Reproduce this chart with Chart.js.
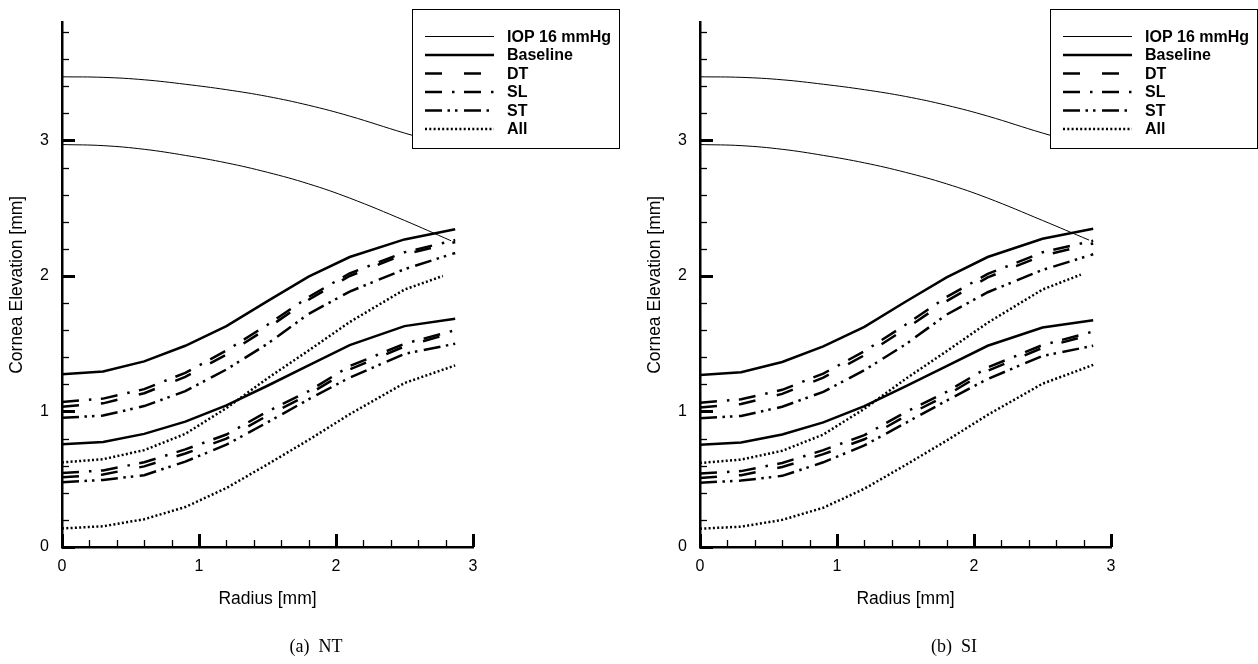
<!DOCTYPE html>
<html>
<head>
<meta charset="utf-8">
<script src="https://cdn.jsdelivr.net/npm/chart.js@4.4.1/dist/chart.umd.min.js"></script>
<style>
  body { margin: 0; background: #fff; width: 1258px; height: 664px; position: relative; overflow: hidden; }
  .panel { position: absolute; top: 0; height: 664px; }
  .caption { position: absolute; top: 636px; font-family: "Liberation Serif", "Times New Roman", serif; font-size: 18px; white-space: pre; transform: translateX(-50%); }
</style>
</head>
<body>
<div class="panel" style="left:0;width:638px"><canvas id="chartNT"></canvas></div>
<div class="panel" style="left:638px;width:620px"><canvas id="chartSI"></canvas></div>
<div class="caption" style="left:316px">(a)  NT</div>
<div class="caption" style="left:954px">(b)  SI</div>
<script>
// radius grid (mm) of the plotted nodes
const radius = [0, 0.3, 0.6, 0.9, 1.2, 1.5, 1.8, 2.1, 2.5, 2.87];
const radiusIop = [0, 0.3, 0.6, 0.9, 1.2, 1.5, 1.8, 2.1, 2.5, 2.84];
const radiusAllUpper = [0, 0.3, 0.6, 0.9, 1.2, 1.5, 1.8, 2.1, 2.5, 2.78];

const xTickLabels = [0, 1, 2, 3];
const yTickLabels = [0, 1, 2, 3];

// (a) NT
const iopUpperNT = [3.47, 3.466, 3.448, 3.415, 3.375, 3.325, 3.26, 3.18, 3.055, 2.96];
const iopLowerNT = [2.97, 2.962, 2.935, 2.89, 2.835, 2.765, 2.68, 2.575, 2.41, 2.26];
const baselineUpperNT = [1.275, 1.295, 1.37, 1.485, 1.63, 1.815, 1.995, 2.14, 2.27, 2.345];
const baselineLowerNT = [0.759, 0.775, 0.835, 0.925, 1.045, 1.19, 1.34, 1.49, 1.63, 1.685];
const dtUpperNT = [1.035, 1.06, 1.135, 1.255, 1.42, 1.615, 1.825, 2.0, 2.16, 2.25];
const slUpperNT = [1.07, 1.095, 1.165, 1.285, 1.45, 1.64, 1.845, 2.02, 2.175, 2.265];
const stUpperNT = [0.953, 0.97, 1.04, 1.15, 1.31, 1.5, 1.72, 1.885, 2.05, 2.17];
const allUpperNT = [0.624, 0.648, 0.715, 0.835, 1.025, 1.245, 1.45, 1.66, 1.9, 2.0];
const dtLowerNT = [0.514, 0.535, 0.595, 0.69, 0.8, 0.97, 1.125, 1.31, 1.48, 1.585];
const slLowerNT = [0.546, 0.565, 0.625, 0.72, 0.83, 1.0, 1.15, 1.335, 1.5, 1.6];
const stLowerNT = [0.478, 0.495, 0.53, 0.63, 0.755, 0.92, 1.09, 1.25, 1.425, 1.5];
const allLowerNT = [0.137, 0.153, 0.205, 0.295, 0.435, 0.61, 0.79, 0.98, 1.21, 1.34];

// (b) SI
const iopUpperSI = [3.47, 3.466, 3.448, 3.415, 3.375, 3.325, 3.26, 3.18, 3.055, 2.96];
const iopLowerSI = [2.97, 2.962, 2.935, 2.89, 2.835, 2.765, 2.68, 2.575, 2.41, 2.265];
const baselineUpperSI = [1.27, 1.29, 1.365, 1.48, 1.625, 1.81, 1.99, 2.14, 2.275, 2.348];
const baselineLowerSI = [0.755, 0.772, 0.83, 0.92, 1.04, 1.185, 1.335, 1.485, 1.62, 1.673];
const dtUpperSI = [1.03, 1.055, 1.13, 1.25, 1.415, 1.61, 1.815, 1.99, 2.15, 2.24];
const slUpperSI = [1.065, 1.09, 1.16, 1.28, 1.445, 1.64, 1.845, 2.015, 2.175, 2.26];
const stUpperSI = [0.95, 0.967, 1.035, 1.145, 1.305, 1.495, 1.715, 1.88, 2.045, 2.16];
const allUpperSI = [0.62, 0.645, 0.71, 0.83, 1.02, 1.24, 1.445, 1.655, 1.9, 2.01];
const dtLowerSI = [0.51, 0.53, 0.59, 0.685, 0.795, 0.965, 1.12, 1.3, 1.47, 1.572];
const slLowerSI = [0.542, 0.56, 0.62, 0.715, 0.825, 0.995, 1.145, 1.325, 1.49, 1.59];
const stLowerSI = [0.475, 0.49, 0.525, 0.625, 0.75, 0.915, 1.08, 1.24, 1.41, 1.485];
const allLowerSI = [0.135, 0.15, 0.2, 0.29, 0.43, 0.605, 0.785, 0.975, 1.205, 1.344];

const legendLabels = ['IOP 16 mmHg', 'Baseline', 'DT', 'SL', 'ST', 'All'];

const lineStyles = {
    'IOP 16 mmHg': { borderWidth: 1, borderDash: [], tension: 0.4 },
    'Baseline': { borderWidth: 2.5, borderDash: [] },
    'DT': { borderWidth: 2.5, borderDash: [17, 22] },
    'SL': { borderWidth: 2.5, borderDash: [17, 10, 2.5, 9.5] },
    'ST': { borderWidth: 2.5, borderDash: [17, 5.5, 2.5, 5, 2.5, 6.5] },
    'All': { borderWidth: 2.5, borderDash: [2, 2.3] }
};

const makeSet = (label, xs, ys) => ({
    label: label,
    data: xs.map((x, i) => ({ x: x, y: ys[i] })),
    borderColor: '#000',
    pointRadius: 0,
    tension: 0,
    fill: false,
    borderCapStyle: 'butt',
    ...lineStyles[label]
});

// tick marks drawn on the inside of both axes
const insideTicks = {
    id: 'insideTicks',
    afterDraw(chart) {
        const { ctx, chartArea, scales: { x, y } } = chart;
        ctx.save();
        ctx.strokeStyle = '#000';
        for (let i = 0; i <= 15; i++) {
            const major = i % 5 === 0;
            const px = Math.round(x.getPixelForValue(i / 5)) + 0.5;
            ctx.lineWidth = major ? 3 : 1.3;
            ctx.beginPath();
            ctx.moveTo(px, chartArea.bottom);
            ctx.lineTo(px, chartArea.bottom - (major ? 13 : 7));
            ctx.stroke();
        }
        for (let i = 0; i <= 19; i++) {
            const major = i % 5 === 0;
            const py = Math.round(y.getPixelForValue(i / 5)) + 0.5;
            ctx.lineWidth = major ? 3 : 1.3;
            ctx.beginPath();
            ctx.moveTo(chartArea.left, py);
            ctx.lineTo(chartArea.left + (major ? 13 : 7), py);
            ctx.stroke();
        }
        ctx.restore();
    }
};

// boxed legend in the top right corner, drawn over the curves
const boxLegend = {
    id: 'boxLegend',
    afterDraw(chart) {
        const ctx = chart.ctx;
        ctx.save();
        ctx.fillStyle = '#fff';
        ctx.fillRect(412, 9, 207, 139);
        ctx.strokeStyle = '#000';
        ctx.lineWidth = 1;
        ctx.setLineDash([]);
        ctx.strokeRect(412.5, 9.5, 207, 139);
        legendLabels.forEach((label, i) => {
            const st = lineStyles[label];
            const yy = 36.5 + i * 18.5;
            ctx.lineWidth = st.borderWidth;
            ctx.setLineDash(st.borderDash);
            ctx.beginPath();
            ctx.moveTo(425, yy);
            ctx.lineTo(494, yy);
            ctx.stroke();
            ctx.setLineDash([]);
            ctx.fillStyle = '#000';
            ctx.font = 'bold 16px "Liberation Sans", Arial, sans-serif';
            ctx.textBaseline = 'middle';
            ctx.fillText(label, 507, yy + 1);
        });
        ctx.restore();
    }
};

const tickFont = { family: '"Liberation Sans", Arial, sans-serif', size: 16 };
const titleFont = { family: '"Liberation Sans", Arial, sans-serif', size: 17.5 };

function buildChart(id, rightPad, series) {
    const datasets = [
        makeSet('IOP 16 mmHg', radiusIop, series.iopUpper),
        makeSet('IOP 16 mmHg', radiusIop, series.iopLower),
        makeSet('Baseline', radius, series.baselineUpper),
        makeSet('Baseline', radius, series.baselineLower),
        makeSet('DT', radius, series.dtUpper),
        makeSet('DT', radius, series.dtLower),
        makeSet('SL', radius, series.slUpper),
        makeSet('SL', radius, series.slLower),
        makeSet('ST', radius, series.stUpper),
        makeSet('ST', radius, series.stLower),
        makeSet('All', radiusAllUpper, series.allUpper),
        makeSet('All', radius, series.allLower)
    ];
    return new Chart(document.getElementById(id), {
        type: 'line',
        data: { datasets: datasets },
        options: {
            responsive: true,
            maintainAspectRatio: false,
            animation: false,
            events: [],
            layout: { padding: { left: 0, right: rightPad, top: 18, bottom: 0 } },
            scales: {
                x: {
                    type: 'linear',
                    min: 0,
                    max: 3,
                    afterBuildTicks: s => { s.ticks = xTickLabels.map(v => ({ value: v })); },
                    afterFit: s => { s.height = 117; },
                    grid: { display: false, drawTicks: false },
                    border: { display: true, color: '#000', width: 2.5 },
                    ticks: { color: '#000', font: tickFont, padding: 10, maxRotation: 0 },
                    title: { display: true, text: 'Radius [mm]', color: '#000', font: titleFont, padding: { top: 0, bottom: 54 } }
                },
                y: {
                    min: 0,
                    max: 3.87,
                    afterBuildTicks: s => { s.ticks = yTickLabels.map(v => ({ value: v })); },
                    afterFit: s => { s.width = 62; },
                    grid: { display: false, drawTicks: false },
                    border: { display: true, color: '#000', width: 2.5 },
                    ticks: { color: '#000', font: tickFont, padding: 13 },
                    title: { display: true, text: 'Cornea Elevation [mm]', color: '#000', font: titleFont, padding: { top: 7, bottom: 0 } }
                }
            },
            plugins: {
                legend: { display: false },
                tooltip: { enabled: false }
            }
        },
        plugins: [insideTicks, boxLegend]
    });
}

buildChart('chartNT', 638 - 473, {
    iopUpper: iopUpperNT, iopLower: iopLowerNT,
    baselineUpper: baselineUpperNT, baselineLower: baselineLowerNT,
    dtUpper: dtUpperNT, dtLower: dtLowerNT,
    slUpper: slUpperNT, slLower: slLowerNT,
    stUpper: stUpperNT, stLower: stLowerNT,
    allUpper: allUpperNT, allLower: allLowerNT
});

buildChart('chartSI', 620 - 473, {
    iopUpper: iopUpperSI, iopLower: iopLowerSI,
    baselineUpper: baselineUpperSI, baselineLower: baselineLowerSI,
    dtUpper: dtUpperSI, dtLower: dtLowerSI,
    slUpper: slUpperSI, slLower: slLowerSI,
    stUpper: stUpperSI, stLower: stLowerSI,
    allUpper: allUpperSI, allLower: allLowerSI
});
</script>
</body>
</html>
